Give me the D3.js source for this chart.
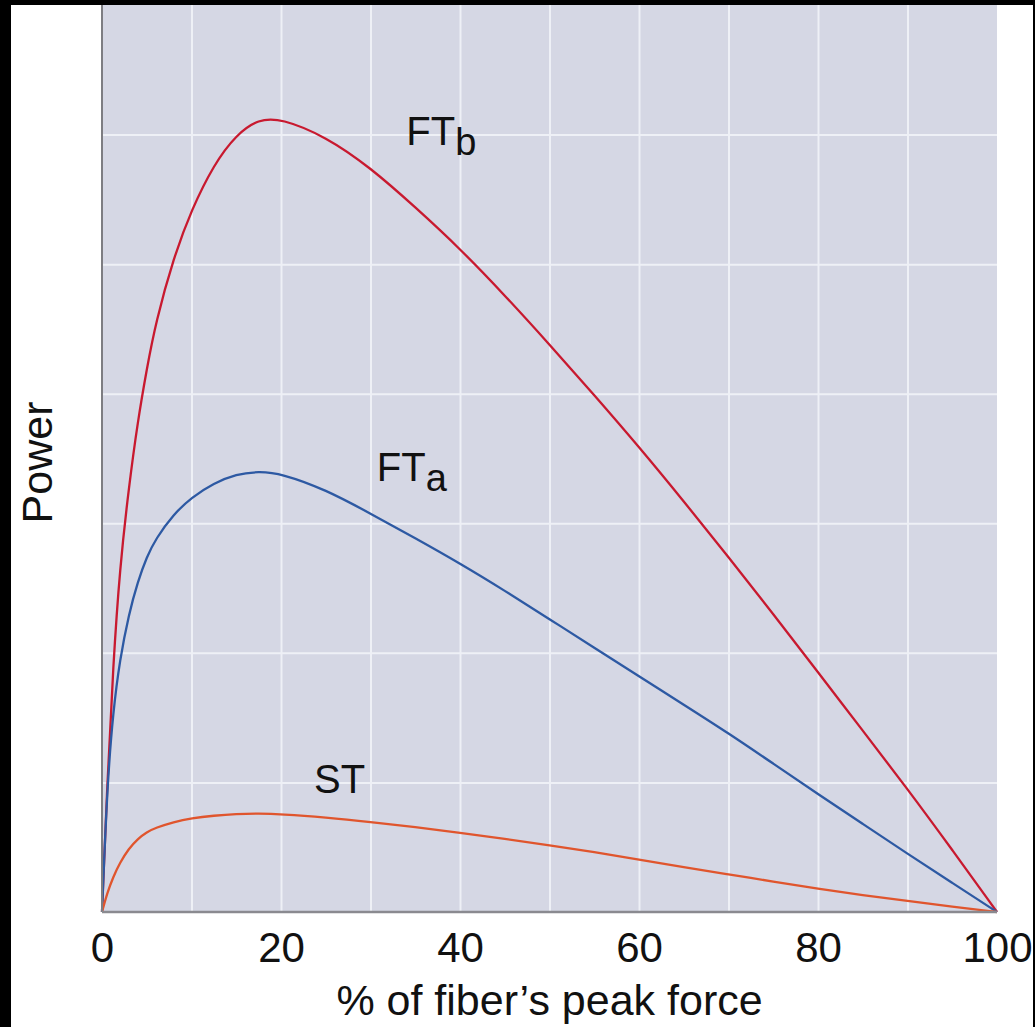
<!DOCTYPE html>
<html>
<head>
<meta charset="utf-8">
<script src="https://cdn.jsdelivr.net/npm/d3@7"></script>
<style>
  html, body { margin: 0; padding: 0; background: #fff; }
  svg { display: block; }
  text { font-family: "Liberation Sans", Arial, Helvetica, sans-serif; fill: #111; }
</style>
</head>
<body>
<svg id="canvas"></svg>
<script>
// % of fiber's peak force
let forcePct = [0, 0.6, 1.25, 2, 3, 4, 5, 6, 8, 10, 12.5, 15, 17.5, 20, 25, 30, 35, 40, 45, 50, 55, 60, 65, 70, 75, 80, 85, 90, 95, 100]

// power, in grid units (7 horizontal divisions, no labels in the original)
let ftbPower = [0, 1.0, 1.91, 2.66, 3.28, 3.79, 4.19, 4.55, 5.05, 5.42, 5.77, 6.0, 6.12, 6.125, 5.985, 5.745, 5.44, 5.12, 4.76, 4.38, 3.99, 3.59, 3.17, 2.74, 2.30, 1.85, 1.40, 0.95, 0.48, 0]
let ftaPower = [0, 1.0, 1.55, 1.95, 2.30, 2.55, 2.74, 2.88, 3.07, 3.20, 3.31, 3.38, 3.40, 3.385, 3.26, 3.075, 2.885, 2.69, 2.48, 2.26, 2.04, 1.82, 1.60, 1.38, 1.145, 0.91, 0.68, 0.45, 0.225, 0]
let stPower  = [0, 0.15, 0.27, 0.38, 0.49, 0.565, 0.617, 0.65, 0.695, 0.724, 0.744, 0.757, 0.76, 0.755, 0.73, 0.695, 0.655, 0.612, 0.565, 0.515, 0.462, 0.405, 0.345, 0.29, 0.235, 0.18, 0.13, 0.085, 0.042, 0]

let seriesNames = ['FTb', 'FTa', 'ST']
let seriesColors = ['#c8192f', '#2d59a3', '#e0552d']

let xTicks = [0, 20, 40, 60, 80, 100]
let xGrid = [10, 20, 30, 40, 50, 60, 70, 80, 90]
let yGrid = [1, 2, 3, 4, 5, 6]

// curve labels: main text, subscript, anchor in data units
let labelMain = ['FT', 'FT', 'ST']
let labelSub = ['b', 'a', '']
let labelX = [34.0, 30.7, 23.7]
let labelY = [5.92, 3.33, 0.92]

let width = 1035
let height = 1027
let plotLeft = 102
let plotRight = 997
let plotTop = 5
let plotBottom = 912

let canvas = d3.select('#canvas')
    .attr('width', width)
    .attr('height', height)

let xScale = d3.scaleLinear().domain([0, 100]).range([plotLeft, plotRight])
let yScale = d3.scaleLinear().domain([0, 7]).range([plotBottom, plotTop])

// plot background
canvas.append('rect')
    .attr('x', plotLeft)
    .attr('y', plotTop)
    .attr('width', plotRight - plotLeft)
    .attr('height', plotBottom - plotTop)
    .attr('fill', '#d5d7e4')

// grid lines
canvas.append('g')
    .attr('transform', 'translate(0,' + plotBottom + ')')
    .call(d3.axisBottom(xScale).tickValues(xGrid).tickSize(-(plotBottom - plotTop)).tickFormat(''))
    .call(g => g.select('.domain').remove())
    .call(g => g.selectAll('.tick line').attr('stroke', '#eef0f6').attr('stroke-width', 2))

canvas.append('g')
    .attr('transform', 'translate(' + plotLeft + ',0)')
    .call(d3.axisLeft(yScale).tickValues(yGrid).tickSize(-(plotRight - plotLeft)).tickFormat(''))
    .call(g => g.select('.domain').remove())
    .call(g => g.selectAll('.tick line').attr('stroke', '#eef0f6').attr('stroke-width', 2))

// curves
let line = d3.line()
    .x(d => xScale(d[0]))
    .y(d => yScale(d[1]))
    .curve(d3.curveBasis)

let allPower = [ftbPower, ftaPower, stPower]

allPower.forEach((values, i) => {
    canvas.append('path')
        .datum(forcePct.map((f, j) => [f, values[j]]))
        .attr('class', 'curve ' + seriesNames[i])
        .attr('fill', 'none')
        .attr('stroke', seriesColors[i])
        .attr('stroke-width', 2.3)
        .attr('stroke-linejoin', 'round')
        .attr('d', line)
})

// axis lines
canvas.append('line')
    .attr('x1', plotLeft).attr('x2', plotLeft)
    .attr('y1', plotTop).attr('y2', plotBottom)
    .attr('stroke', '#7d7d82').attr('stroke-width', 2)

canvas.append('line')
    .attr('x1', plotLeft).attr('x2', plotRight)
    .attr('y1', plotBottom).attr('y2', plotBottom)
    .attr('stroke', '#8a8a90').attr('stroke-width', 2.5)

// x tick labels
canvas.append('g')
    .attr('transform', 'translate(0,' + plotBottom + ')')
    .call(d3.axisBottom(xScale).tickValues(xTicks).tickSize(0).tickPadding(0))
    .call(g => g.select('.domain').remove())
    .call(g => g.selectAll('.tick text')
        .attr('y', 50)
        .attr('dy', null)
        .attr('font-size', 42)
        .attr('font-family', '"Liberation Sans", Arial, sans-serif')
        .attr('fill', '#111'))

// axis titles
canvas.append('text')
    .attr('x', (plotLeft + plotRight) / 2)
    .attr('y', 1015)
    .attr('text-anchor', 'middle')
    .attr('font-size', 43)
    .text('% of fiber\u2019s peak force')

canvas.append('text')
    .attr('transform', 'translate(52,' + ((plotTop + plotBottom) / 2 + 4) + ') rotate(-90)')
    .attr('text-anchor', 'middle')
    .attr('font-size', 43)
    .text('Power')

// curve labels
labelMain.forEach((t, i) => {
    let txt = canvas.append('text')
        .attr('x', xScale(labelX[i]))
        .attr('y', yScale(labelY[i]))
        .attr('font-size', 40)
        .text(t)
    if (labelSub[i]) {
        txt.append('tspan')
            .attr('dy', 10)
            .attr('font-size', 38)
            .text(labelSub[i])
    }
})

// black frame strips
canvas.append('rect').attr('x', 0).attr('y', 0).attr('width', 11).attr('height', height).attr('fill', '#000')
canvas.append('rect').attr('x', 0).attr('y', 0).attr('width', width).attr('height', 5).attr('fill', '#000')
canvas.append('rect').attr('x', 1033).attr('y', 0).attr('width', 2).attr('height', height).attr('fill', '#000')
</script>
</body>
</html>
